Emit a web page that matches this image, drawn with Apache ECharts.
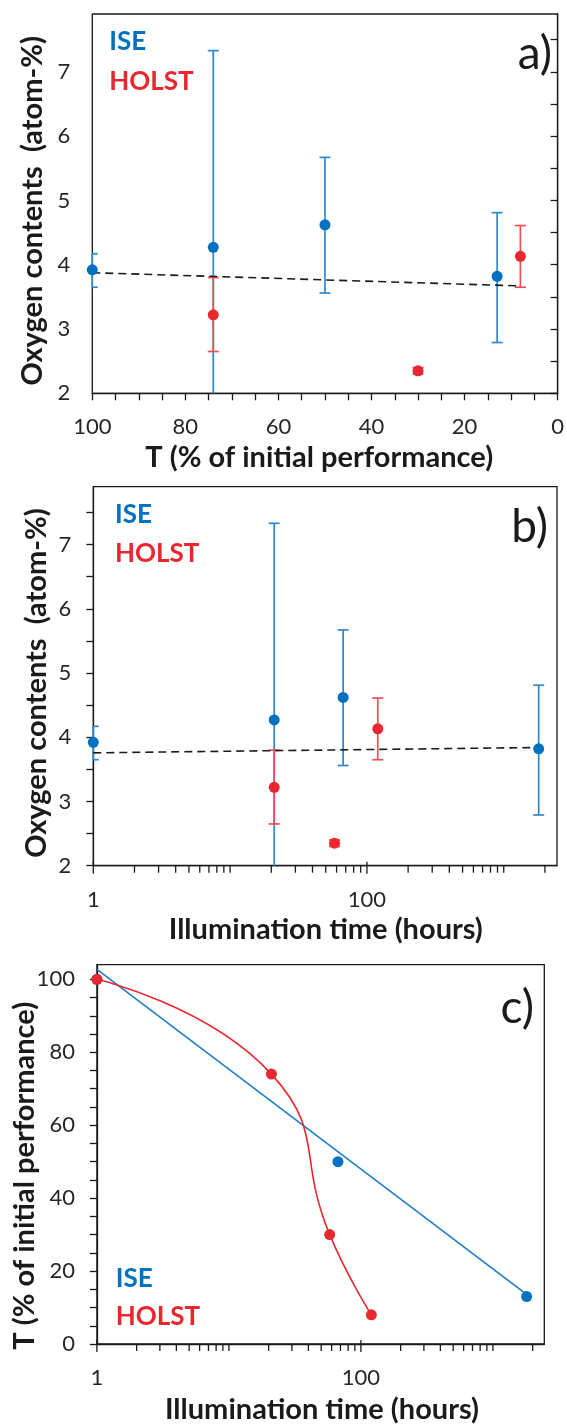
<!DOCTYPE html>
<html><head><meta charset="utf-8">
<script src="https://cdn.jsdelivr.net/npm/echarts@6/dist/echarts.min.js"></script>
<style>html,body{margin:0;padding:0;background:#fff}#c{width:567px;height:1424px}</style>
</head><body><div id="c"></div>
<script>
// ---------- data ----------
// Oxygen contents (atom-%) with error ranges
const iseOxy   = [3.92, 4.27, 4.62, 3.82];
const iseOxyLo = [3.65, 1.21, 3.56, 2.79];
const iseOxyHi = [4.17, 7.33, 5.67, 4.81];
const holOxy   = [3.22, 2.35, 4.13];
const holOxyLo = [2.65, 2.30, 3.65];
const holOxyHi = [3.80, 2.40, 4.61];
// panel a: x = T (% of initial performance)
const iseT_a = [100, 74, 50, 13];
const holT_a = [74, 30, 8];
const trendA_x = [100, 8];
const trendA_y = [3.876, 3.67];
// panel b: x = illumination time (hours)
const iseH_b = [1, 21, 67, 1800];
const holH_b = [21, 58, 120];
const trendB_x = [1, 1800];
const trendB_y = [3.757, 3.84];
// panel c: T vs illumination time
const iseH_c = [1, 67, 1800];
const iseT_c = [100, 50, 13];
const holH_c = [1, 21, 58, 120];
const holT_c = [100, 74, 30, 8];
const fitC_x = [1, 1800];
const fitC_y = [102.7, 13.6];
// tick values / labels
const oxyTicks  = [2, 2.5, 3, 3.5, 4, 4.5, 5, 5.5, 6, 6.5, 7, 7.5];
const oxyLabels = [2, 3, 4, 5, 6, 7];
const tTicks  = [0,5,10,15,20,25,30,35,40,45,50,55,60,65,70,75,80,85,90,95,100];
const tLabels = [0, 20, 40, 60, 80, 100];
const logLabels = [1, 100];
const logMajorTicks = [1, 100];
const logMinorTicks = [2,3,4,5,6,7,8,9,10,20,30,40,50,60,70,80,90,200,300,400,500,600,700,800,900,1000,2000];

// ---------- style ----------
const BLUE = '#0070C0', BLUE_E = '#2E88CF', BLUE_L = '#1F7DC6';
const RED = '#E8282E', RED_E = '#EE4E55';
const INK = '#1a1a1a', TXT = '#262626';
const FONT = 'Lato';

const zip = (a, b) => a.map((v, i) => [v, b[i]]);

function errSeries(gi, xs, ys, lo, hi, color) {
  return {
    type: 'custom', xAxisIndex: gi, yAxisIndex: gi, z: 2, silent: true,
    data: xs.map((x, i) => [x, ys[i], lo[i], hi[i]]),
    encode: { x: 0, y: 1 },
    renderItem: function (params, api) {
      const cs = params.coordSys;
      const x = api.value(0);
      const pL = api.coord([x, api.value(2)]);
      const pH = api.coord([x, api.value(3)]);
      const bottom = cs.y + cs.height;
      const L = cs.x, R = cs.x + cs.width, hw = 5.5;
      const st = { stroke: color, lineWidth: 1.7 };
      const ch = [];
      const yl = Math.min(pL[1], bottom);
      ch.push({ type: 'line', shape: { x1: pL[0], y1: yl, x2: pH[0], y2: pH[1] }, style: st });
      const cap = (p) => ({ type: 'line', shape: { x1: Math.max(p[0] - hw, L), y1: p[1], x2: Math.min(p[0] + hw, R), y2: p[1] }, style: st });
      if (pL[1] <= bottom) ch.push(cap(pL));
      ch.push(cap(pH));
      return { type: 'group', children: ch };
    }
  };
}

function logTickSeries(gi, vals, ymin, up, down) {
  return {
    type: 'custom', xAxisIndex: gi, yAxisIndex: gi, z: 5, silent: true, clip: false,
    data: vals.map(v => [v, ymin]),
    encode: { x: 0, y: 1 },
    renderItem: function (params, api) {
      const p = api.coord([api.value(0), api.value(1)]);
      return { type: 'line', shape: { x1: p[0], y1: p[1] - up, x2: p[0], y2: p[1] + down }, style: { stroke: INK, lineWidth: 1.3 } };
    }
  };
}

const axisLineS = { show: true, lineStyle: { color: INK, width: 1.3 } };
const lbl = (extra) => Object.assign({ color: TXT, fontFamily: FONT, fontSize: 22 }, extra);

function oxyAxis(gi) {
  return {
    type: 'value', gridIndex: gi, min: 2, max: 7.9, interval: 0.5,
    axisLine: axisLineS,
    axisTick: { show: true, length: 7, lineStyle: { color: INK, width: 1.3 }, customValues: oxyTicks },
    axisLabel: lbl({ margin: 22, customValues: oxyLabels,
      formatter: v => (Math.abs(v - Math.round(v)) < 1e-6 ? String(Math.round(v)) : '') }),
    splitLine: { show: false }
  };
}
function logAxis(gi) {
  return {
    type: 'log', logBase: 10, gridIndex: gi, min: 1, max: 2450,
    axisLine: axisLineS,
    axisTick: { show: false },
    axisLabel: lbl({ margin: 23, showMaxLabel: false,
      formatter: v => (logLabels.some(l => Math.abs(v - l) < 1e-6 * l) ? String(Math.round(v)) : '') }),
    splitLine: { show: false }, minorTick: { show: false }
  };
}

const gridBase = { show: true, borderColor: INK, borderWidth: 1.3, containLabel: false, backgroundColor: 'transparent' };

const txt = (text, x, y, color, font, align, rot) => ({
  type: 'text', x: x, y: y, rotation: rot || 0, z: 100,
  style: { text: text, fill: color, font: font, align: align || 'left', verticalAlign: 'middle' }
});
const BOLDT = 'bold 29px ' + FONT, LEG = 'bold 26px ' + FONT, PAN = '46px ' + FONT;

const option = {
  animation: false,
  backgroundColor: '#fff',
  grid: [
    Object.assign({ left: 92.3, top: 14, width: 469.4, height: 379.3 }, gridBase),
    Object.assign({ left: 93.3, top: 486.7, width: 463.7, height: 379 }, gridBase),
    Object.assign({ left: 96.9, top: 964.7, width: 447.4, height: 379.3 }, gridBase)
  ],
  xAxis: [
    {
      type: 'value', gridIndex: 0, min: 0, max: 100, interval: 5, inverse: true,
      axisLine: axisLineS,
      axisTick: { show: true, length: 7, lineStyle: { color: INK, width: 1.3 } },
      axisLabel: lbl({ margin: 23, formatter: v => (tLabels.indexOf(v) >= 0 ? String(v) : '') }),
      splitLine: { show: false }
    },
    logAxis(1),
    logAxis(2)
  ],
  yAxis: [
    oxyAxis(0),
    oxyAxis(1),
    {
      type: 'value', gridIndex: 2, min: 0, max: 104, interval: 5,
      axisLine: axisLineS,
      axisTick: { show: true, length: 7, lineStyle: { color: INK, width: 1.3 }, customValues: tTicks },
      axisLabel: lbl({ margin: 22, customValues: tLabels,
        formatter: v => (tLabels.indexOf(v) >= 0 ? String(v) : '') }),
      splitLine: { show: false }
    }
  ],
  series: [
    // panel a
    errSeries(0, iseT_a, iseOxy, iseOxyLo, iseOxyHi, BLUE_E),
    errSeries(0, holT_a, holOxy, holOxyLo, holOxyHi, RED_E),
    { type: 'line', xAxisIndex: 0, yAxisIndex: 0, data: zip(trendA_x, trendA_y), showSymbol: false, symbol: 'none', z: 3,
      lineStyle: { color: INK, width: 1.6, type: [8, 5] } },
    { type: 'scatter', xAxisIndex: 0, yAxisIndex: 0, data: zip(iseT_a, iseOxy), symbolSize: 11, itemStyle: { color: BLUE, opacity: 1 }, z: 4 },
    { type: 'scatter', xAxisIndex: 0, yAxisIndex: 0, data: zip(holT_a, holOxy), symbolSize: 11, itemStyle: { color: RED, opacity: 1 }, z: 4 },
    // panel b
    errSeries(1, iseH_b, iseOxy, iseOxyLo, iseOxyHi, BLUE_E),
    errSeries(1, holH_b, holOxy, holOxyLo, holOxyHi, RED_E),
    { type: 'line', xAxisIndex: 1, yAxisIndex: 1, data: zip(trendB_x, trendB_y), showSymbol: false, symbol: 'none', z: 3,
      lineStyle: { color: INK, width: 1.6, type: [8, 5] } },
    { type: 'scatter', xAxisIndex: 1, yAxisIndex: 1, data: zip(iseH_b, iseOxy), symbolSize: 11, itemStyle: { color: BLUE, opacity: 1 }, z: 4 },
    { type: 'scatter', xAxisIndex: 1, yAxisIndex: 1, data: zip(holH_b, holOxy), symbolSize: 11, itemStyle: { color: RED, opacity: 1 }, z: 4 },
    logTickSeries(1, logMinorTicks, 2, 0, 7),
    logTickSeries(1, logMajorTicks, 2, 4, 8),
    // panel c
    { type: 'line', xAxisIndex: 2, yAxisIndex: 2, data: zip(fitC_x, fitC_y), showSymbol: false, symbol: 'none', z: 3,
      lineStyle: { color: BLUE_L, width: 1.6 } },
    { type: 'scatter', xAxisIndex: 2, yAxisIndex: 2, data: zip(iseH_c, iseT_c), symbolSize: 11, itemStyle: { color: BLUE, opacity: 1 }, z: 4 },
    { type: 'line', xAxisIndex: 2, yAxisIndex: 2, data: zip(holH_c, holT_c), smooth: 0.5, symbol: 'circle', symbolSize: 11, showSymbol: true, z: 5,
      lineStyle: { color: RED, width: 1.6 }, itemStyle: { color: RED, opacity: 1, borderWidth: 0 } },
    logTickSeries(2, logMinorTicks, 0, 0, 7),
    logTickSeries(2, logMajorTicks, 0, 4, 8)
  ],
  graphic: [
    // panel a
    txt('ISE', 109.3, 42, BLUE, LEG),
    txt('HOLST', 109.3, 81.2, RED, LEG),
    txt('a)', 552, 54, '#1a1a1a', PAN, 'right'),
    txt('Oxygen contents  (atom-%)', 33, 210.8, '#1a1a1a', BOLDT, 'center', Math.PI / 2),
    txt('T (% of initial performance)', 319.2, 458, '#1a1a1a', BOLDT, 'center'),
    // panel b
    txt('ISE', 115, 515, BLUE, LEG),
    txt('HOLST', 115, 553.3, RED, LEG),
    txt('b)', 548, 527, '#1a1a1a', PAN, 'right'),
    txt('Oxygen contents  (atom-%)', 37, 683, '#1a1a1a', BOLDT, 'center', Math.PI / 2),
    txt('Illumination time (hours)', 325.8, 930, '#1a1a1a', BOLDT, 'center'),
    // panel c
    txt('ISE', 115.7, 1278.3, BLUE, LEG),
    txt('HOLST', 115.7, 1316.7, RED, LEG),
    txt('c)', 534, 1008, '#1a1a1a', PAN, 'right'),
    txt('T (% of initial performance)', 24.5, 1175.8, '#1a1a1a', BOLDT, 'center', Math.PI / 2),
    txt('Illumination time (hours)', 322, 1410, '#1a1a1a', BOLDT, 'center')
  ]
};

const chart = echarts.init(document.getElementById('c'), null, { renderer: 'canvas', width: 567, height: 1424 });
chart.setOption(option);
</script>
</body></html>
